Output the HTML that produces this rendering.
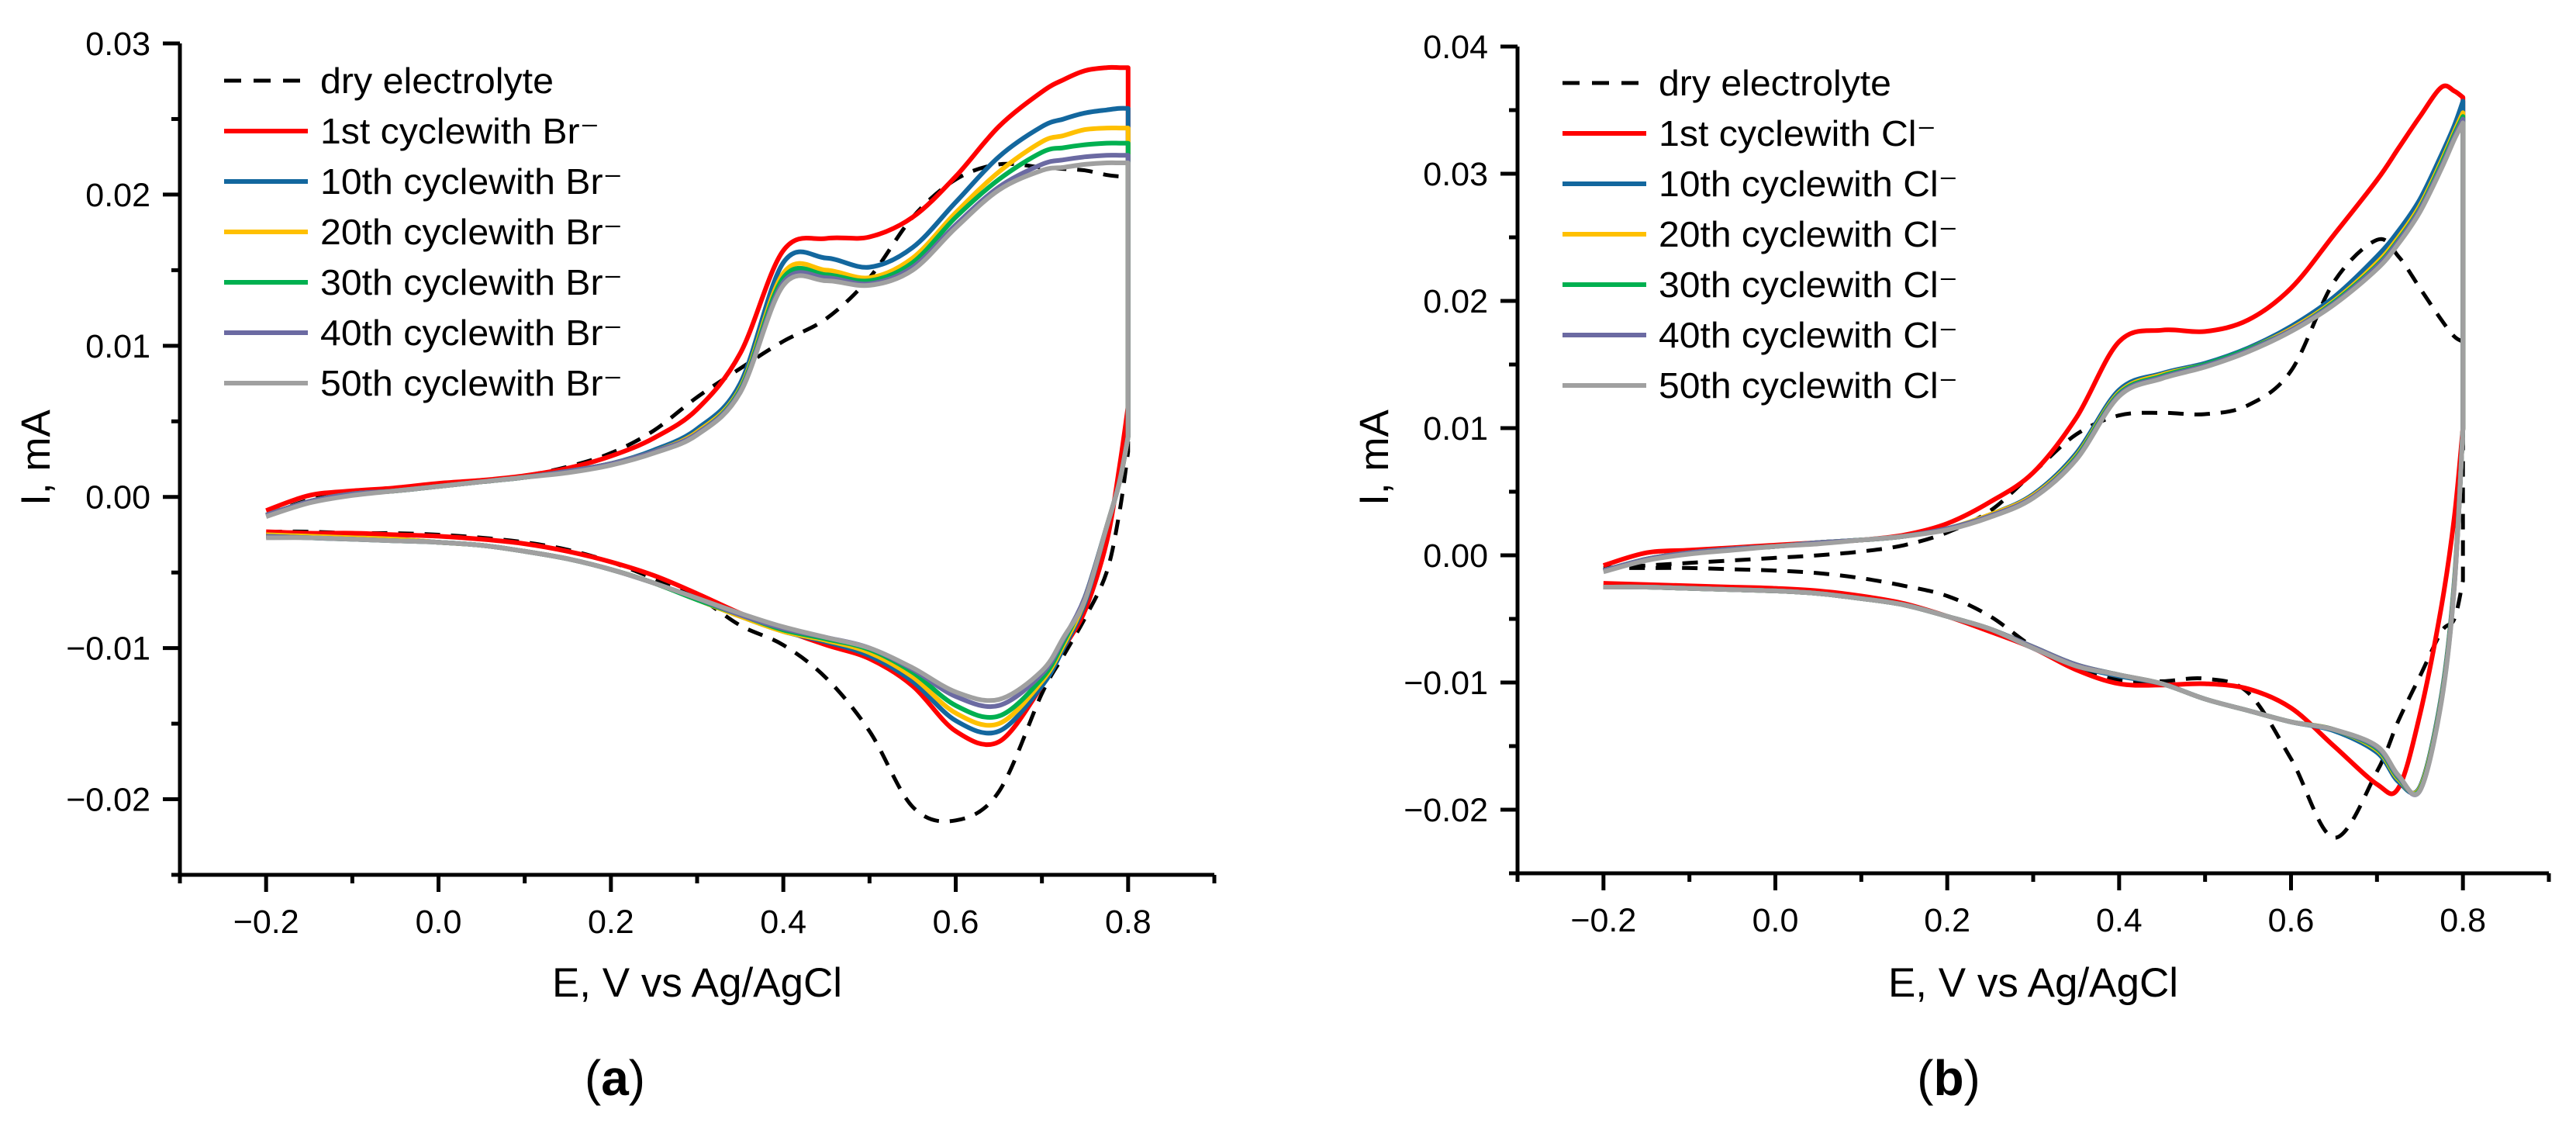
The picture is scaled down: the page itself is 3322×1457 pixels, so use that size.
<!DOCTYPE html>
<html><head><meta charset="utf-8"><style>
html,body{margin:0;padding:0;background:#fff;}
svg{display:block;}
text{font-family:"Liberation Sans",Arial,sans-serif;fill:#000;}
</style></head>
<body>
<svg id="fig" width="3322" height="1457" viewBox="0 0 3322 1457" xmlns="http://www.w3.org/2000/svg">
<g id="panelA"></g>
<g id="panelB"></g>
</svg>
<script>
// Potential grid (V vs Ag/AgCl)
const E = [-0.2,-0.15,-0.1,-0.05,0,0.05,0.1,0.15,0.2,0.25,0.3,0.35,0.4,0.45,0.5,0.55,0.6,0.65,0.7,0.725,0.75,0.775,0.79,0.8];
const seriesNames = ["dry electrolyte","1st cyclewith","10th cyclewith","20th cyclewith","30th cyclewith","40th cyclewith","50th cyclewith"];
const xTicks = [-0.2,0,0.2,0.4,0.6,0.8];
const xTickLabels = ["\u22120.2","0.0","0.2","0.4","0.6","0.8"];
const yTicksA = [0.03,0.02,0.01,0,-0.01,-0.02];
const yTickLabelsA = ["0.03","0.02","0.01","0.00","\u22120.01","\u22120.02"];
const yTicksB = [0.04,0.03,0.02,0.01,0,-0.01,-0.02];
const yTickLabelsB = ["0.04","0.03","0.02","0.01","0.00","\u22120.01","\u22120.02"];

// Panel A (Br-) forward (upper) sweeps, mA
const aDryUp = [-0.0012,-0.0002,0.0003,0.0005,0.0008,0.0011,0.0014,0.0020,0.0029,0.0044,0.0066,0.0085,0.0103,0.0118,0.0145,0.0185,0.0210,0.0220,0.0218,0.0217,0.0216,0.0213,0.0212,0.0212];
const aC1Up  = [-0.0009,0.0001,0.0004,0.0006,0.0009,0.0011,0.0014,0.0019,0.0027,0.0039,0.0058,0.0095,0.0163,0.0171,0.0172,0.0185,0.0212,0.0245,0.0268,0.0276,0.0282,0.0284,0.0284,0.0284];
const aC10Up = [-0.0012,-0.0003,0.0002,0.0004,0.0007,0.0010,0.0013,0.0017,0.0022,0.0031,0.0045,0.0075,0.0155,0.0158,0.0152,0.0165,0.0195,0.0225,0.0245,0.0250,0.0254,0.0256,0.0257,0.0257];
const aC20Up = [-0.0012,-0.0003,0.0002,0.0004,0.0007,0.0010,0.0013,0.0017,0.0022,0.0030,0.0043,0.0072,0.0148,0.0150,0.0145,0.0158,0.0188,0.0215,0.0235,0.0239,0.0243,0.0244,0.0244,0.0244];
const aC30Up = [-0.0012,-0.0003,0.0002,0.0004,0.0007,0.0010,0.0013,0.0017,0.0022,0.0030,0.0042,0.0071,0.0145,0.0147,0.0143,0.0155,0.0185,0.0210,0.0228,0.0231,0.0233,0.0234,0.0234,0.0234];
const aC40Up = [-0.0012,-0.0003,0.0002,0.0004,0.0007,0.0010,0.0013,0.0017,0.0022,0.0030,0.0042,0.0070,0.0142,0.0145,0.0141,0.0152,0.0180,0.0205,0.0220,0.0223,0.0225,0.0226,0.0226,0.0226];
const aC50Up = [-0.0013,-0.0004,0.0001,0.0004,0.0007,0.0010,0.0013,0.0016,0.0021,0.0029,0.0041,0.0069,0.0140,0.0143,0.0140,0.0150,0.0178,0.0203,0.0216,0.0218,0.0220,0.0221,0.0221,0.0221];
// Panel A reverse (lower) sweeps
const aDryDn = [-0.0023,-0.0023,-0.0024,-0.0024,-0.0025,-0.0027,-0.0030,-0.0035,-0.0043,-0.0054,-0.0066,-0.0085,-0.0098,-0.0120,-0.0155,-0.0205,-0.0214,-0.0195,-0.0130,-0.0105,-0.0080,-0.0050,-0.0010,0.0030];
const aC1Dn  = [-0.0023,-0.0024,-0.0024,-0.0025,-0.0026,-0.0028,-0.0031,-0.0036,-0.0043,-0.0052,-0.0064,-0.0077,-0.0088,-0.0098,-0.0107,-0.0125,-0.0155,-0.0162,-0.0125,-0.0100,-0.0075,-0.0030,0.0020,0.0060];
const aC10Dn = [-0.0025,-0.0026,-0.0027,-0.0028,-0.0030,-0.0032,-0.0036,-0.0041,-0.0048,-0.0057,-0.0068,-0.0079,-0.0089,-0.0096,-0.0105,-0.0122,-0.0148,-0.0155,-0.0125,-0.0100,-0.0070,-0.0020,0.0010,0.0040];
const aC20Dn = [-0.0025,-0.0026,-0.0027,-0.0028,-0.0030,-0.0032,-0.0036,-0.0041,-0.0048,-0.0057,-0.0068,-0.0079,-0.0089,-0.0095,-0.0103,-0.0119,-0.0143,-0.0150,-0.0122,-0.0098,-0.0068,-0.0020,0.0010,0.0040];
const aC30Dn = [-0.0026,-0.0027,-0.0028,-0.0029,-0.0030,-0.0032,-0.0036,-0.0041,-0.0048,-0.0057,-0.0068,-0.0078,-0.0088,-0.0094,-0.0101,-0.0116,-0.0138,-0.0145,-0.0120,-0.0096,-0.0066,-0.0020,0.0010,0.0040];
const aC40Dn = [-0.0026,-0.0027,-0.0028,-0.0029,-0.0030,-0.0032,-0.0036,-0.0041,-0.0048,-0.0057,-0.0067,-0.0078,-0.0087,-0.0093,-0.0100,-0.0114,-0.0132,-0.0138,-0.0117,-0.0094,-0.0066,-0.0020,0.0010,0.0040];
const aC50Dn = [-0.0027,-0.0027,-0.0028,-0.0029,-0.0030,-0.0032,-0.0036,-0.0041,-0.0048,-0.0057,-0.0067,-0.0077,-0.0086,-0.0093,-0.0100,-0.0113,-0.0129,-0.0134,-0.0115,-0.0093,-0.0068,-0.0020,0.0010,0.0040];

// Panel B (Cl-) forward sweeps
const bDryUp = [-0.0010,-0.0008,-0.0006,-0.0004,-0.0002,0.0000,0.0003,0.0008,0.0018,0.0035,0.0065,0.0095,0.0110,0.0112,0.0111,0.0118,0.0145,0.0215,0.0248,0.0235,0.0210,0.0185,0.0172,0.0168];
const bC1Up  = [-0.0008,0.0002,0.0004,0.0006,0.0008,0.0010,0.0012,0.0016,0.0025,0.0042,0.0065,0.0108,0.0168,0.0177,0.0176,0.0185,0.0210,0.0252,0.0295,0.0320,0.0345,0.0368,0.0365,0.0360];
const bC10Up = [-0.0012,-0.0003,0.0002,0.0005,0.0007,0.0010,0.0012,0.0015,0.0021,0.0032,0.0048,0.0080,0.0130,0.0143,0.0151,0.0163,0.0180,0.0203,0.0235,0.0255,0.0280,0.0315,0.0338,0.0357];
const bC20Up = [-0.0012,-0.0003,0.0002,0.0005,0.0007,0.0010,0.0012,0.0015,0.0021,0.0032,0.0047,0.0078,0.0128,0.0142,0.0150,0.0162,0.0178,0.0200,0.0230,0.0250,0.0275,0.0310,0.0333,0.0348];
const bC30Up = [-0.0012,-0.0003,0.0002,0.0005,0.0007,0.0010,0.0012,0.0015,0.0021,0.0031,0.0046,0.0077,0.0127,0.0141,0.0150,0.0162,0.0177,0.0199,0.0228,0.0248,0.0273,0.0308,0.0331,0.0345];
const bC40Up = [-0.0012,-0.0003,0.0002,0.0005,0.0007,0.0010,0.0012,0.0015,0.0021,0.0031,0.0046,0.0076,0.0126,0.0140,0.0149,0.0161,0.0177,0.0198,0.0227,0.0247,0.0272,0.0306,0.0329,0.0343];
const bC50Up = [-0.0013,-0.0004,0.0001,0.0004,0.0007,0.0009,0.0012,0.0015,0.0020,0.0030,0.0045,0.0075,0.0125,0.0139,0.0148,0.0160,0.0176,0.0197,0.0225,0.0245,0.0270,0.0304,0.0327,0.0340];
// Panel B reverse sweeps
const bDryDn = [-0.0010,-0.0010,-0.0010,-0.0011,-0.0012,-0.0014,-0.0018,-0.0024,-0.0032,-0.0048,-0.0072,-0.0088,-0.0098,-0.0099,-0.0097,-0.0108,-0.0160,-0.0222,-0.0170,-0.0130,-0.0095,-0.0060,-0.0050,-0.0020];
const bC1Dn  = [-0.0022,-0.0023,-0.0024,-0.0025,-0.0026,-0.0028,-0.0032,-0.0038,-0.0048,-0.0060,-0.0073,-0.0090,-0.0101,-0.0102,-0.0101,-0.0105,-0.0120,-0.0150,-0.0180,-0.0183,-0.0125,-0.0040,0.0030,0.0100];
const bC10Dn = [-0.0025,-0.0025,-0.0026,-0.0027,-0.0028,-0.0030,-0.0034,-0.0039,-0.0048,-0.0058,-0.0073,-0.0087,-0.0095,-0.0101,-0.0113,-0.0122,-0.0131,-0.0138,-0.0155,-0.0178,-0.0182,-0.0110,-0.0020,0.0100];
const bC20Dn = [-0.0025,-0.0025,-0.0026,-0.0027,-0.0028,-0.0030,-0.0034,-0.0039,-0.0048,-0.0058,-0.0072,-0.0086,-0.0094,-0.0101,-0.0113,-0.0122,-0.0131,-0.0137,-0.0153,-0.0176,-0.0183,-0.0112,-0.0022,0.0100];
const bC30Dn = [-0.0025,-0.0025,-0.0026,-0.0027,-0.0028,-0.0030,-0.0034,-0.0039,-0.0048,-0.0058,-0.0072,-0.0086,-0.0094,-0.0101,-0.0113,-0.0122,-0.0131,-0.0137,-0.0152,-0.0175,-0.0184,-0.0113,-0.0023,0.0100];
const bC40Dn = [-0.0025,-0.0025,-0.0026,-0.0027,-0.0028,-0.0030,-0.0034,-0.0039,-0.0048,-0.0058,-0.0072,-0.0086,-0.0094,-0.0101,-0.0113,-0.0122,-0.0131,-0.0137,-0.0151,-0.0174,-0.0185,-0.0114,-0.0024,0.0100];
const bC50Dn = [-0.0025,-0.0025,-0.0026,-0.0027,-0.0028,-0.0030,-0.0034,-0.0039,-0.0048,-0.0058,-0.0073,-0.0087,-0.0094,-0.0101,-0.0113,-0.0122,-0.0131,-0.0137,-0.0150,-0.0173,-0.0185,-0.0115,-0.0025,0.0100];

const colors = ["#000000","#ff0000","#13679e","#ffc000","#00b050","#6b6aa2","#a0a0a0"];
const NS = "http://www.w3.org/2000/svg";
function mk(tag, attrs, parent){const e=document.createElementNS(NS,tag);for(const k in attrs)e.setAttribute(k,attrs[k]);parent.appendChild(e);return e;}

function smoothPath(pts){
  let d = "M"+pts[0][0].toFixed(1)+","+pts[0][1].toFixed(1);
  for(let i=0;i<pts.length-1;i++){
    const p0=pts[i-1]||pts[i], p1=pts[i], p2=pts[i+1], p3=pts[i+2]||p2;
    const c1=[p1[0]+(p2[0]-p0[0])/6, p1[1]+(p2[1]-p0[1])/6];
    const c2=[p2[0]-(p3[0]-p1[0])/6, p2[1]-(p3[1]-p1[1])/6];
    d+=" C"+c1[0].toFixed(1)+","+c1[1].toFixed(1)+" "+c2[0].toFixed(1)+","+c2[1].toFixed(1)+" "+p2[0].toFixed(1)+","+p2[1].toFixed(1);
  }
  return d;
}

function drawPanel(g, cfg){
  const X = v => cfg.x0 + (v - cfg.xmin)/(cfg.xmax-cfg.xmin)*(cfg.x1-cfg.x0);
  const Y = v => cfg.yTop + (cfg.ymax - v)/(cfg.ymax-cfg.ymin)*(cfg.yBot-cfg.yTop);
  for(let s=0;s<cfg.up.length;s++){
    const sg = mk("g",{},g);
    
    
    const up = E.map((e,i)=>[X(e),Y(cfg.up[s][i])]);
    const dn = E.map((e,i)=>[X(e),Y(cfg.dn[s][i])]).reverse();
    const base = {fill:"none",stroke:colors[s],"stroke-width":s===0?5:6,"stroke-linejoin":"round"};
    if(s===0){base["stroke-dasharray"]="20 14";}
    const d = smoothPath(up)+" L"+dn[0][0].toFixed(1)+","+dn[0][1].toFixed(1)+" "+smoothPath(dn).replace(/^M/,"L");
    const p = mk("path",Object.assign({d:d},base),sg);
    
    
  }
  const ax = mk("g",{stroke:"#000","stroke-width":5,fill:"none"},g);
  
  
  mk("path",{d:`M${cfg.x0},${cfg.yTop} V${cfg.yBot} H${cfg.x1}`},ax);
  for(let v=cfg.xmin; v<=cfg.xmax+1e-9; v+=0.1){
    const major = xTicks.some(t=>Math.abs(t-v)<1e-6);
    mk("line",{x1:X(v),x2:X(v),y1:cfg.yBot,y2:cfg.yBot+(major?22:11)},ax);
  }
  xTicks.forEach((t,i)=>{
    const tx = mk("text",{x:X(t),y:cfg.yBot+75,"font-size":43,"text-anchor":"middle"},g);
    tx.textContent = xTickLabels[i];
    
    
  });
  for(let k=Math.round(cfg.ymin/0.005); k<=Math.round(cfg.ymax/0.005); k++){
    const v = k*0.005;
    const major = k%2===0;
    mk("line",{x1:cfg.x0,x2:cfg.x0-(major?22:11),y1:Y(v),y2:Y(v)},ax);
  }
  cfg.yTicks.forEach((t,i)=>{
    const ty = mk("text",{x:cfg.x0-38,y:Y(t)+15,"font-size":43,"text-anchor":"end"},g);
    ty.textContent = cfg.yLabels[i];
    
    
  });
  const xt = mk("text",{x:(cfg.x0+cfg.x1)/2,y:1285,"font-size":53,"text-anchor":"middle"},g);
  xt.textContent = "E, V vs Ag/AgCl";
  
  
  const yt = mk("text",{x:0,y:0,"font-size":53,"text-anchor":"middle",transform:`translate(${cfg.ytX},590) rotate(-90)`},g);
  yt.textContent = "I, mA";
  
  
  const pl = mk("text",{x:cfg.plX,y:1412,"font-size":64,"text-anchor":"middle","font-family":"Liberation Serif, serif"},g);
  pl.innerHTML = '(<tspan font-weight="bold">'+cfg.letter+'</tspan>)';
  
  
  const lg = mk("g",{},g);
  
  
  seriesNames.forEach((nm,s)=>{
    const ry = cfg.legY + s*65;
    const le = mk("g",{},lg);
    
    
    const la = {x1:cfg.legX,x2:cfg.legX+108,y1:ry,y2:ry,stroke:colors[s],"stroke-width":s===0?5:6};
    if(s===0) la["stroke-dasharray"]="22 16";
    mk("line",la,le);
    const t = mk("text",{x:cfg.legX+124,y:ry+16,"font-size":46,textLength:cfg.legW[s===0?0:(s===1?1:2)],lengthAdjust:"spacingAndGlyphs"},le);
    t.textContent = s===0 ? nm : nm+" "+cfg.ion;
  });
}

drawPanel(document.getElementById("panelA"),{
  x0:232,x1:1566,xmin:-0.3,xmax:0.9,yTop:56,yBot:1128,ymin:-0.025,ymax:0.03,
  yTicks:yTicksA,yLabels:yTickLabelsA,ytX:64,plX:793,letter:"a",
  legX:289,legY:104,legW:[301,360,390],ion:"Br\u207B",
  up:[aDryUp,aC1Up,aC10Up,aC20Up,aC30Up,aC40Up,aC50Up],
  dn:[aDryDn,aC1Dn,aC10Dn,aC20Dn,aC30Dn,aC40Dn,aC50Dn]
});
drawPanel(document.getElementById("panelB"),{
  x0:1957,x1:3287,xmin:-0.3,xmax:0.9,yTop:60,yBot:1126,ymin:-0.025,ymax:0.04,
  yTicks:yTicksB,yLabels:yTickLabelsB,ytX:1790,plX:2513,letter:"b",
  legX:2015,legY:107,legW:[300,358,386],ion:"Cl\u207B",
  up:[bDryUp,bC1Up,bC10Up,bC20Up,bC30Up,bC40Up,bC50Up],
  dn:[bDryDn,bC1Dn,bC10Dn,bC20Dn,bC30Dn,bC40Dn,bC50Dn]
});
</script>
</body></html>
